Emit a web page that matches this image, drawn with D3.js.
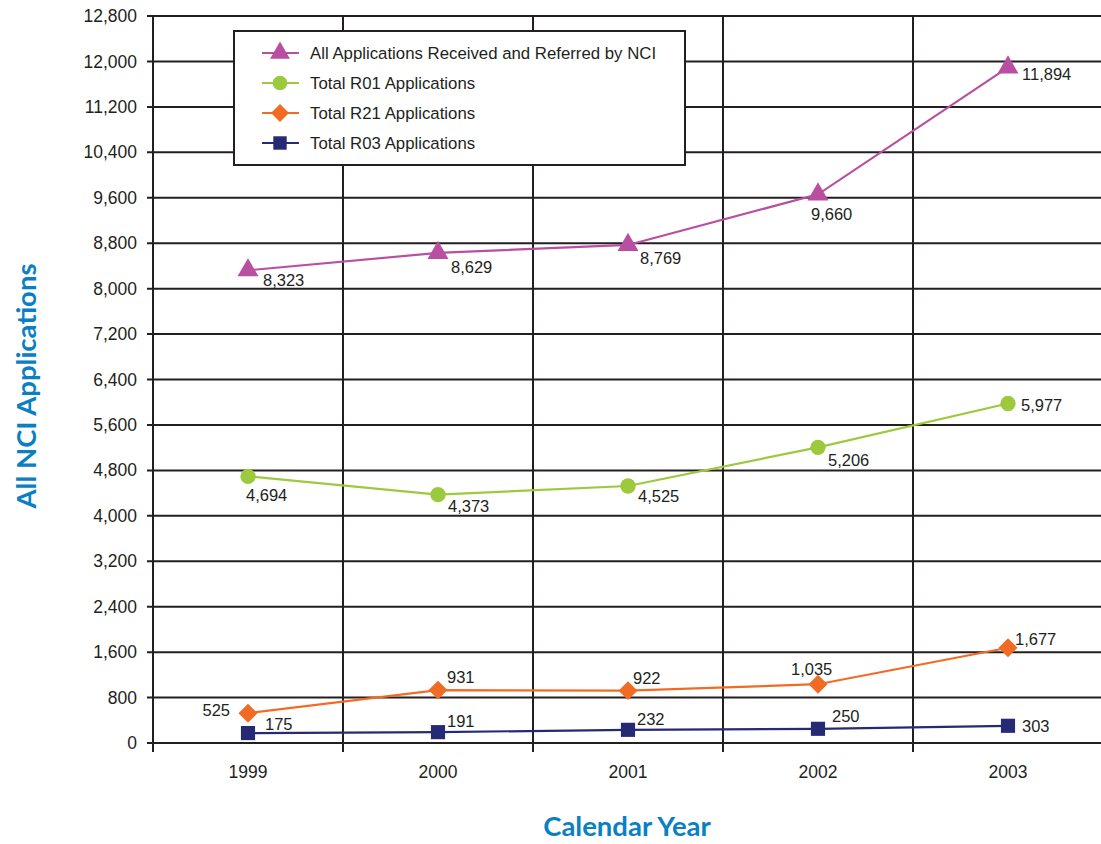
<!DOCTYPE html>
<html>
<head>
    <title>NCI Applications by Calendar Year</title>
    <script src="https://d3js.org/d3.v7.min.js"></script>
    <style>
        body { margin: 0; background: #fff; }
        .chart text { font-family: "Liberation Sans", Arial, sans-serif; fill: #231f20; }
        .axis-title { font-family: Lato, "Open Sans", sans-serif !important; font-weight: bold; fill: #0a80c4 !important; }
    </style>
</head>
<body>
    <div class="chart"></div>
    <script>
        // Data
        const years = ["1999", "2000", "2001", "2002", "2003"];
        const allApps = [8323, 8629, 8769, 9660, 11894];
        const r01Apps = [4694, 4373, 4525, 5206, 5977];
        const r21Apps = [525, 931, 922, 1035, 1677];
        const r03Apps = [175, 191, 232, 250, 303];
        const seriesNames = [
            "All Applications Received and Referred by NCI",
            "Total R01 Applications",
            "Total R21 Applications",
            "Total R03 Applications"
        ];
        const yTicks = d3.range(0, 12801, 800);

        // Series styling and label offsets (dx, dy, anchor) per point
        const series = [
            {name: seriesNames[0], values: allApps, color: "#b94fa0", symbol: d3.symbolTriangle, size: 190, rot: 0,
             offsets: [[15, 10, "start"], [13, 14, "start"], [12, 13, "start"], [-7, 20, "start"], [14, 7, "start"]]},
            {name: seriesNames[1], values: r01Apps, color: "#9cc93d", symbol: d3.symbolCircle, size: 185, rot: 0,
             offsets: [[-2, 19, "start"], [10, 12, "start"], [10, 10, "start"], [10, 13, "start"], [13, 2, "start"]]},
            {name: seriesNames[2], values: r21Apps, color: "#f26b24", symbol: d3.symbolSquare, size: 180, rot: 45,
             offsets: [[-18, -3, "end"], [9, -13, "start"], [5, -12, "start"], [-27, -15, "start"], [7, -9, "start"]]},
            {name: seriesNames[3], values: r03Apps, color: "#262a75", symbol: d3.symbolSquare, size: 200, rot: 0,
             offsets: [[17, -9, "start"], [9, -11, "start"], [9, -11, "start"], [14, -13, "start"], [14, 0, "start"]]}
        ];

        const width = 1101, height = 844;
        const plotLeft = 153, plotRight = 1103, plotTop = 16, plotBottom = 743;

        const svg = d3.select(".chart")
            .append("svg")
            .attr("width", width)
            .attr("height", height);

        // Scales
        const xScale = d3.scaleBand().domain(years).range([plotLeft, plotRight]);
        const yScale = d3.scaleLinear().domain([0, 12800]).range([plotBottom, plotTop]);
        const cx = d => xScale(d) + xScale.bandwidth() / 2;

        // Horizontal gridlines
        svg.append("g").selectAll("line")
            .data(yTicks)
            .enter().append("line")
            .attr("x1", plotLeft - 6).attr("x2", width)
            .attr("y1", d => yScale(d)).attr("y2", d => yScale(d))
            .attr("stroke", "#231f20").attr("stroke-width", 2);

        // Vertical boundaries between years
        const bounds = years.map(d => xScale(d)).filter(x => x < width);
        svg.append("g").selectAll("line")
            .data(bounds)
            .enter().append("line")
            .attr("x1", d => d).attr("x2", d => d)
            .attr("y1", plotTop).attr("y2", plotBottom + 9)
            .attr("stroke", "#231f20").attr("stroke-width", 2);

        // Y axis
        const yAxis = svg.append("g")
            .attr("transform", `translate(${plotLeft},0)`)
            .call(d3.axisLeft(yScale).tickValues(yTicks).tickSize(0).tickPadding(16)
                .tickFormat(d3.format(",")));
        yAxis.select(".domain").remove();
        yAxis.selectAll("text").style("font-size", "17.5px");

        // X axis labels
        const xAxis = svg.append("g")
            .attr("transform", `translate(0,${plotBottom})`)
            .call(d3.axisBottom(xScale).tickSize(0).tickPadding(23));
        xAxis.select(".domain").remove();
        xAxis.selectAll("text").style("font-size", "17.5px");

        // Lines, markers and value labels
        const line = d3.line().x((d, i) => cx(years[i])).y(d => yScale(d));
        series.forEach(s => {
            svg.append("path")
                .datum(s.values)
                .attr("fill", "none")
                .attr("stroke", s.color)
                .attr("stroke-width", 2.2)
                .attr("d", line);

            svg.append("g").selectAll("path")
                .data(s.values)
                .enter().append("path")
                .attr("d", d3.symbol().type(s.symbol).size(s.size))
                .attr("transform", (d, i) => `translate(${cx(years[i])},${yScale(d)}) rotate(${s.rot})`)
                .attr("fill", s.color);

            svg.append("g").selectAll("text")
                .data(s.values)
                .enter().append("text")
                .attr("x", (d, i) => cx(years[i]) + s.offsets[i][0])
                .attr("y", (d, i) => yScale(d) + s.offsets[i][1])
                .attr("dy", "0.35em")
                .attr("text-anchor", (d, i) => s.offsets[i][2])
                .style("font-size", "16.5px")
                .text(d => d3.format(",")(d));
        });

        // Legend
        const legend = svg.append("g");
        legend.append("rect")
            .attr("x", 234).attr("y", 31)
            .attr("width", 451).attr("height", 134)
            .attr("fill", "#fff")
            .attr("stroke", "#231f20").attr("stroke-width", 2);

        const items = legend.selectAll("g.item")
            .data(series)
            .enter().append("g")
            .attr("class", "item")
            .attr("transform", (d, i) => `translate(0,${53 + i * 30})`);
        items.append("line")
            .attr("x1", 262).attr("x2", 299)
            .attr("stroke", d => d.color).attr("stroke-width", 2.2);
        items.append("path")
            .attr("d", d => d3.symbol().type(d.symbol).size(d.size * 0.9)())
            .attr("transform", d => `translate(280,0) rotate(${d.rot})`)
            .attr("fill", d => d.color);
        items.append("text")
            .attr("x", 310).attr("dy", "0.35em")
            .style("font-size", "16.8px")
            .text(d => d.name);

        // Axis titles
        svg.append("text")
            .attr("class", "axis-title")
            .attr("transform", "translate(36,386) rotate(-90)")
            .attr("text-anchor", "middle")
            .style("font-size", "27.5px")
            .text("All NCI Applications");

        svg.append("text")
            .attr("class", "axis-title")
            .attr("x", 627).attr("y", 836)
            .attr("text-anchor", "middle")
            .style("font-size", "27.5px")
            .text("Calendar Year");
    </script>
</body>
</html>
